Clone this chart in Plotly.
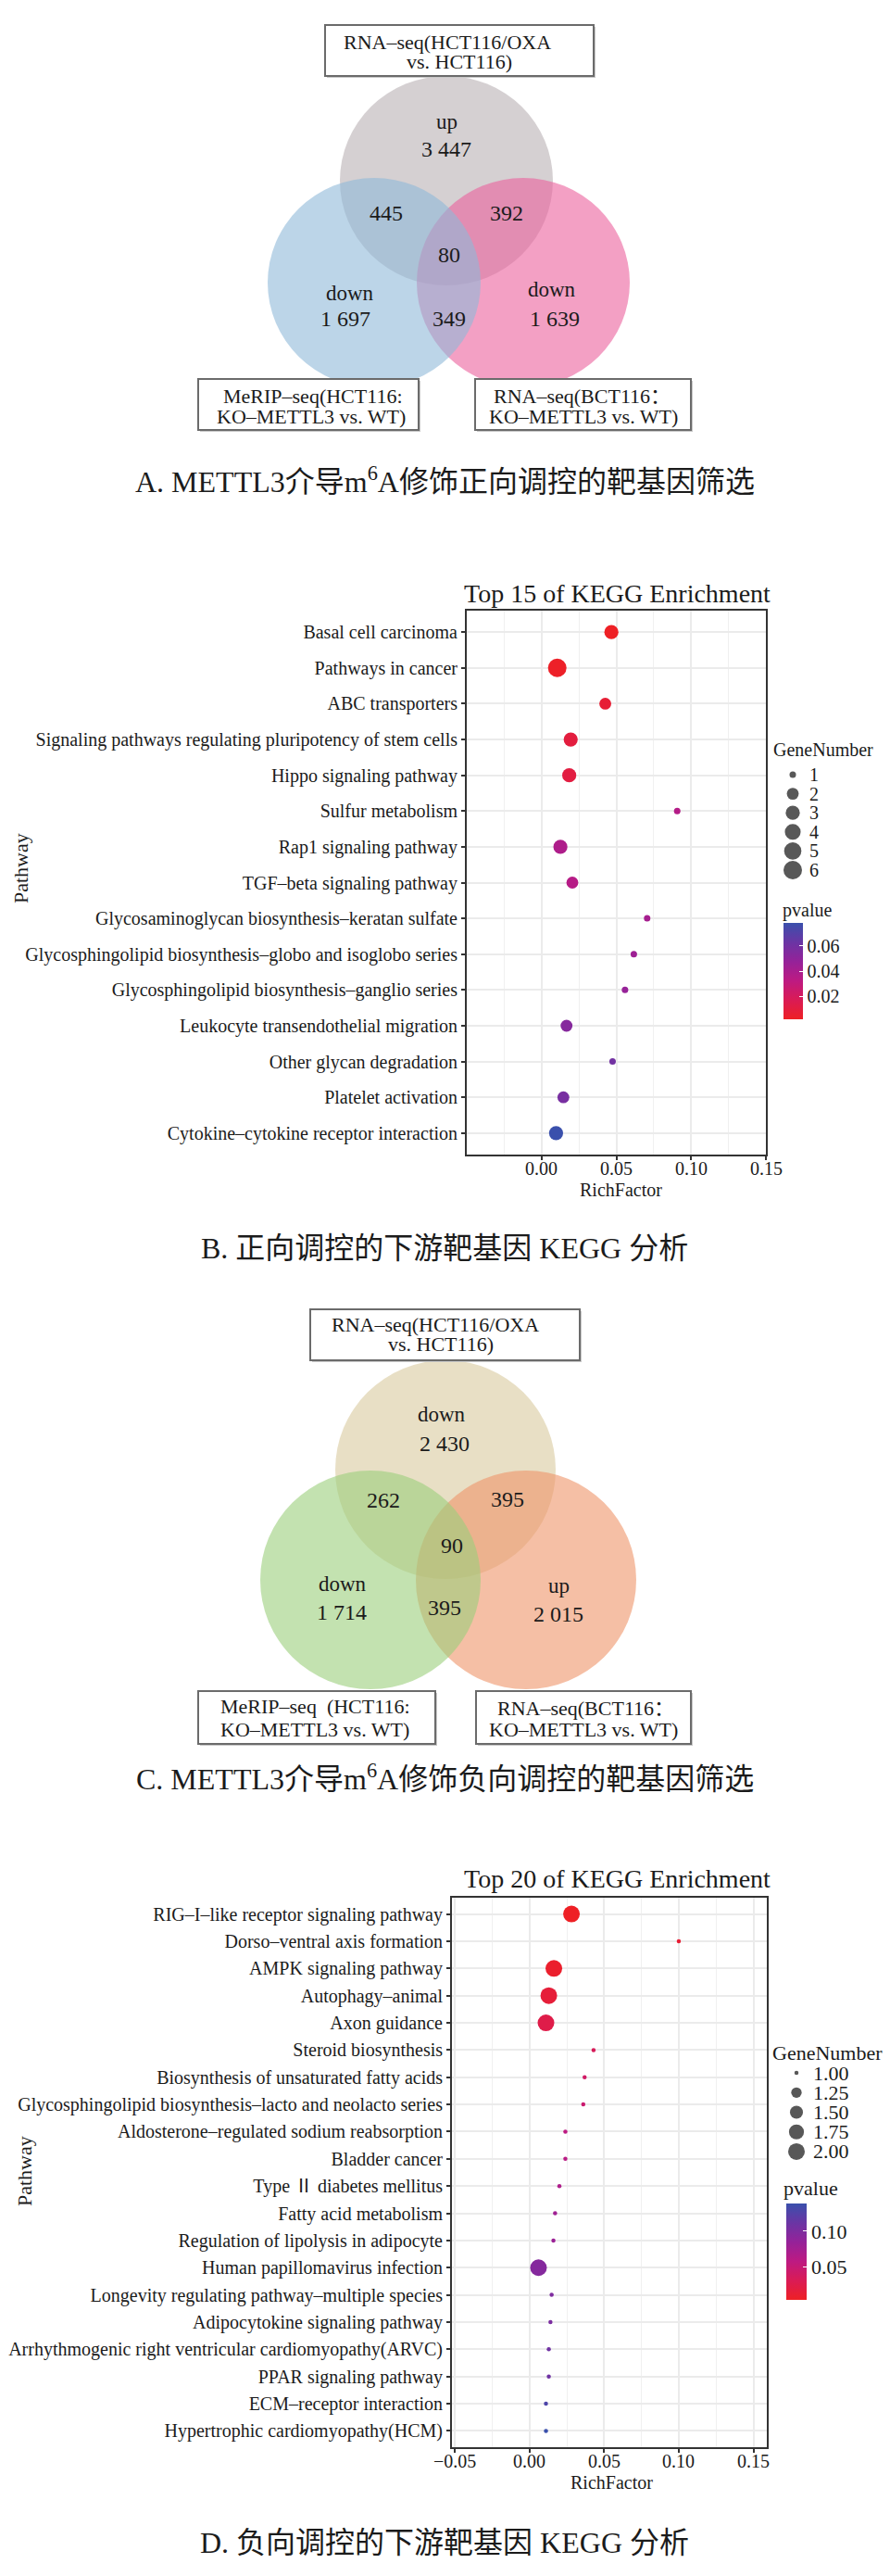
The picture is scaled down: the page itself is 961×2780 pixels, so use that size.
import numpy as np
import plotly.graph_objects as go

W, H = 961, 2780

# ---------------- data ----------------
# Panel A : Venn (top, left, right sets)
venn_a_top_box = ["RNA–seq(HCT116/OXA", "vs. HCT116)"]
venn_a_left_box = ["MeRIP–seq(HCT116:", "KO–METTL3 vs. WT)"]
venn_a_right_box = ["RNA–seq(BCT116：", "KO–METTL3 vs. WT)"]
venn_a_direction = ["up", "down", "down"]      # top, left, right
venn_a_unique = [3447, 1697, 1639]             # top only, left only, right only
venn_a_pairs = [445, 392, 349]                 # top&left, top&right, left&right
venn_a_all = 80

# Panel C : Venn
venn_c_top_box = ["RNA–seq(HCT116/OXA", "vs. HCT116)"]
venn_c_left_box = ["MeRIP–seq  (HCT116:", "KO–METTL3 vs. WT)"]
venn_c_right_box = ["RNA–seq(BCT116：", "KO–METTL3 vs. WT)"]
venn_c_direction = ["down", "down", "up"]
venn_c_unique = [2430, 1714, 2015]
venn_c_pairs = [262, 395, 395]
venn_c_all = 90

# Panel B : KEGG top 15
b_pathways = [
    "Basal cell carcinoma",
    "Pathways in cancer",
    "ABC transporters",
    "Signaling pathways regulating pluripotency of stem cells",
    "Hippo signaling pathway",
    "Sulfur metabolism",
    "Rap1 signaling pathway",
    "TGF–beta signaling pathway",
    "Glycosaminoglycan biosynthesis–keratan sulfate",
    "Glycosphingolipid biosynthesis–globo and isoglobo series",
    "Glycosphingolipid biosynthesis–ganglio series",
    "Leukocyte transendothelial migration",
    "Other glycan degradation",
    "Platelet activation",
    "Cytokine–cytokine receptor interaction",
]
b_richfactor = [0.0467, 0.0105, 0.0426, 0.0195, 0.0185, 0.0907, 0.0126, 0.0206,
                0.0706, 0.0617, 0.0558, 0.0167, 0.0475, 0.0146, 0.0097]
b_genenumber = [3, 6, 2, 3, 3, 1, 3, 2, 1, 1, 1, 2, 1, 2, 3]
b_pvalue = [0.002, 0.003, 0.007, 0.010, 0.011, 0.036, 0.038, 0.035,
            0.041, 0.044, 0.047, 0.053, 0.060, 0.058, 0.078]
b_xticks = [0.00, 0.05, 0.10, 0.15]
b_pvalue_ticks = [0.02, 0.04, 0.06]
b_gene_legend = [1, 2, 3, 4, 5, 6]

# Panel D : KEGG top 20
d_pathways = [
    "RIG–I–like receptor signaling pathway",
    "Dorso–ventral axis formation",
    "AMPK signaling pathway",
    "Autophagy–animal",
    "Axon guidance",
    "Steroid biosynthesis",
    "Biosynthesis of unsaturated fatty acids",
    "Glycosphingolipid biosynthesis–lacto and neolacto series",
    "Aldosterone–regulated sodium reabsorption",
    "Bladder cancer",
    "Type Ⅱ diabetes mellitus",
    "Fatty acid metabolism",
    "Regulation of lipolysis in adipocyte",
    "Human papillomavirus infection",
    "Longevity regulating pathway–multiple species",
    "Adipocytokine signaling pathway",
    "Arrhythmogenic right ventricular cardiomyopathy(ARVC)",
    "PPAR signaling pathway",
    "ECM–receptor interaction",
    "Hypertrophic cardiomyopathy(HCM)",
]
d_richfactor = [0.0281, 0.1000, 0.0163, 0.0129, 0.0110, 0.0429, 0.0369, 0.0360,
                0.0240, 0.0240, 0.0200, 0.0171, 0.0160, 0.0060, 0.0148, 0.0140,
                0.0129, 0.0129, 0.0110, 0.0110]
d_genenumber = [2, 1, 2, 2, 2, 1, 1, 1, 1, 1, 1, 1, 1, 2, 1, 1, 1, 1, 1, 1]
d_pvalue = [0.0035, 0.012, 0.008, 0.015, 0.024, 0.033, 0.040, 0.046,
            0.058, 0.060, 0.068, 0.078, 0.081, 0.095, 0.099, 0.101,
            0.108, 0.109, 0.128, 0.139]
d_xticks = [-0.05, 0.00, 0.05, 0.10, 0.15]
d_pvalue_ticks = [0.05, 0.10]
d_gene_legend = [1.00, 1.25, 1.50, 1.75, 2.00]

captions = [
    "A. METTL3介导m<sup>6</sup>A修饰正向调控的靶基因筛选",
    "B. 正向调控的下游靶基因 KEGG 分析",
    "C. METTL3介导m<sup>6</sup>A修饰负向调控的靶基因筛选",
    "D. 负向调控的下游靶基因 KEGG 分析",
]
kegg_titles = ["Top 15 of KEGG Enrichment", "Top 20 of KEGG Enrichment"]

# ---------------- style helpers ----------------
SERIF = "Liberation Serif, Noto Sans CJK SC, serif"
INK = "#1b1b1b"
CS = [[0.0, "#EE2025"], [0.2, "#DA1B55"], [0.4, "#BD1A82"],
      [0.6, "#952299"], [0.8, "#6A35A4"], [1.0, "#3A50AC"]]


def X(p):
    return p / W


def Y(p):
    return 1 - p / H


def fmt(n):
    return f"{n:,}".replace(",", " ")


def size_px(vals, lo, hi, dmin, dmax):
    v = np.asarray(vals, float)
    return dmin + (dmax - dmin) * np.sqrt((v - lo) / (hi - lo))


fig = go.Figure()


def text(s, x, y, size, xanchor="center", angle=0):
    fig.add_annotation(text=s, x=X(x), y=Y(y), xref="paper", yref="paper",
                       showarrow=False, xanchor=xanchor, yanchor="middle",
                       textangle=angle,
                       font=dict(family=SERIF, size=size, color=INK))


def ellipse(cx, cy, rx, ry, color):
    fig.add_shape(type="circle", xref="paper", yref="paper",
                  x0=X(cx - rx), x1=X(cx + rx), y0=Y(cy + ry), y1=Y(cy - ry),
                  fillcolor=color, line=dict(width=0), layer="above")


def box(x0, y0, x1, y1):
    fig.add_shape(type="rect", xref="paper", yref="paper",
                  x0=X(x0 + 2), x1=X(x1 + 2), y0=Y(y1 + 2), y1=Y(y0 + 2),
                  fillcolor="#c8c8c8", line=dict(width=0), layer="above")
    fig.add_shape(type="rect", xref="paper", yref="paper",
                  x0=X(x0), x1=X(x1), y0=Y(y1), y1=Y(y0),
                  fillcolor="white", line=dict(color="#6b6b6b", width=2),
                  layer="above")


def venn(geo, colors, direction, unique, pairs, allv, boxes):
    rx, ry = geo["r"]
    top, left, right = geo["centers"]
    # draw order: top, right, left
    ellipse(*top, rx, ry, colors[0])
    ellipse(*right, rx, ry, colors[2])
    ellipse(*left, rx, ry, colors[1])
    for (bx0, by0, bx1, by1), lines, pos in boxes:
        box(bx0, by0, bx1, by1)
        for ln, (lx, ly) in zip(lines, pos):
            text(ln, lx, ly, 22)
    for i in range(3):
        (dx, dy), (nx, ny) = geo["uniq_pos"][i]
        text(direction[i], dx, dy, 23)
        text(fmt(unique[i]), nx, ny, 24)
    for v, (x, y) in zip(pairs, geo["pair_pos"]):
        text(fmt(v), x, y, 24)
    text(fmt(allv), *geo["all_pos"], 24)


# ---------------- Panel A ----------------
venn(
    dict(r=(115, 113), centers=[(482, 195), (404, 305), (565, 305)],
         uniq_pos=[((482, 131), (482, 161)), ((378, 316), (373, 344)),
                   ((596, 312), (599, 344))],
         pair_pos=[(417, 230), (547, 230), (485, 344)], all_pos=(485, 275)),
    ["rgba(185,177,180,0.6)", "rgba(143,185,217,0.6)", "rgba(235,97,157,0.6)"],
    venn_a_direction, venn_a_unique, venn_a_pairs, venn_a_all,
    [((351, 27, 641, 82), venn_a_top_box, [(483, 45), (496, 66)]),
     ((214, 409, 452, 464), venn_a_left_box, [(338, 427), (336, 449)]),
     ((513, 409, 746, 464), venn_a_right_box, [(628, 427), (630, 449)])],
)

# ---------------- Panel C ----------------
venn(
    dict(r=(119, 118), centers=[(481, 1586), (400, 1705), (568, 1705)],
         uniq_pos=[((477, 1526), (480, 1558)), ((370, 1709), (369, 1740)),
                   ((603, 1711), (603, 1742))],
         pair_pos=[(414, 1619), (548, 1618), (480, 1735)], all_pos=(488, 1668)),
    ["rgba(217,202,158,0.6)", "rgba(155,207,123,0.6)", "rgba(238,148,105,0.6)"],
    venn_c_direction, venn_c_unique, venn_c_pairs, venn_c_all,
    [((335, 1413, 626, 1468), venn_c_top_box, [(470, 1429), (476, 1451)]),
     ((214, 1825, 470, 1882), venn_c_left_box, [(340, 1841), (340, 1866)]),
     ((514, 1825, 746, 1882), venn_c_right_box, [(632, 1843), (630, 1866)])],
)

# ---------------- KEGG dot plots ----------------
axis_common = dict(showline=True, mirror=True, linecolor="#333333", linewidth=2,
                   ticks="outside", ticklen=4, tickwidth=1.5, tickcolor="#333333",
                   showgrid=True, gridcolor="#EBEBEB", gridwidth=1.5,
                   zeroline=False,
                   tickfont=dict(family=SERIF, size=20, color=INK))


def kegg(n, names, rich, genes, pv, xticks, xrange, plot_box, dsize,
         cbar, pv_ticks, leg_vals, leg_box, leg_fmt, leg_fs, title, title_xy,
         tick_y, rf_xy, pw_xy, gn_xy, pv_xy):
    xa, ya = f"x{2*n-1 if n > 1 else ''}", f"y{2*n-1 if n > 1 else ''}"
    xl, yl = f"x{2*n}", f"y{2*n}"
    x0, y0, x1, y1 = plot_box
    gmin, gmax = min(leg_vals), max(leg_vals)
    fig.add_trace(go.Scatter(
        x=rich, y=names, mode="markers", xaxis=xa, yaxis=ya,
        hoverinfo="skip", showlegend=False,
        marker=dict(size=size_px(genes, gmin, gmax, *dsize), color=pv,
                    colorscale=CS, cmin=min(pv), cmax=max(pv), opacity=1,
                    line=dict(width=0), showscale=True,
                    colorbar=dict(x=X(cbar[0]), xanchor="left", y=Y(cbar[1]),
                                  yanchor="top", len=cbar[3], lenmode="pixels",
                                  thickness=cbar[2], thicknessmode="pixels",
                                  outlinewidth=0, xpad=0, ypad=0,
                                  tickmode="array", tickvals=pv_ticks,
                                  ticktext=[f"{v:.2f}" for v in pv_ticks],
                                  ticks="inside", ticklen=4, tickcolor="white",
                                  tickfont=dict(family=SERIF, size=leg_fs,
                                                color=INK)))))
    step = xticks[1] - xticks[0]
    minor_vals = [t - step / 2 for t in xticks] + [xticks[-1] + step / 2]
    lay = {}
    lay["xaxis" + xa[1:]] = dict(
        domain=[X(x0), X(x1)], range=list(xrange), anchor=ya,
        tickmode="array", tickvals=xticks, showticklabels=False,
        minor=dict(tickmode="array", tickvals=minor_vals, showgrid=True,
                   gridcolor="#F0F0F0", gridwidth=1, ticks=""),
        **axis_common)
    lay["yaxis" + ya[1:]] = dict(
        domain=[Y(y1), Y(y0)], type="category", categoryorder="array",
        categoryarray=names, range=[len(names) - 0.4, -0.6], anchor=xa,
        **axis_common)
    lx0, ly0, lx1, ly1, dot_x = leg_box
    nleg = len(leg_vals)
    half = (leg_vals[1] - leg_vals[0]) / 2
    lay["xaxis" + xl[1:]] = dict(domain=[X(lx0), X(lx1)], range=[lx0, lx1],
                                 visible=False, anchor=yl)
    lay["yaxis" + yl[1:]] = dict(domain=[Y(ly1), Y(ly0)],
                                 range=[leg_vals[-1] + half, leg_vals[0] - half],
                                 visible=False, anchor=xl)
    fig.update_layout(**lay)
    # x tick labels (placed close to the axis as in the reference)
    for v in xticks:
        fig.add_annotation(text=f"{v:.2f}".replace("-", "−"), x=v, y=Y(tick_y),
                           xref=xa, yref="paper", showarrow=False,
                           xanchor="center", yanchor="middle",
                           font=dict(family=SERIF, size=20, color=INK))
    fig.add_trace(go.Scatter(
        x=[dot_x] * nleg, y=leg_vals, mode="markers", xaxis=xl, yaxis=yl,
        hoverinfo="skip", showlegend=False,
        marker=dict(size=size_px(leg_vals, gmin, gmax, *dsize), color="#111111",
                    line=dict(width=0))))
    for v in leg_vals:
        fig.add_annotation(text=leg_fmt(v), x=dot_x + 16, y=v, xref=xl, yref=yl,
                           showarrow=False, xanchor="left", yanchor="middle",
                           font=dict(family=SERIF, size=leg_fs, color=INK))
    text(title, *title_xy, 28)
    text("RichFactor", *rf_xy, 20)
    text("Pathway", *pw_xy, 22, angle=-90)
    text("GeneNumber", *gn_xy, leg_fs, xanchor="left")
    text("pvalue", *pv_xy, leg_fs, xanchor="left")


kegg(1, b_pathways, b_richfactor, b_genenumber, b_pvalue, b_xticks,
     (-0.05, 0.15), (504, 659, 827, 1246), (7, 20),
     (846, 996, 21, 104), b_pvalue_ticks, b_gene_legend,
     (836, 825.7, 900, 949.3, 856), lambda v: f"{v:d}", 20,
     kegg_titles[0], (666, 640), 1261, (670, 1284), (22, 937), (833, 809), (843, 982))

kegg(2, d_pathways, d_richfactor, d_genenumber, d_pvalue, d_xticks,
     (-0.052, 0.159), (488, 2048, 828, 2641), (4.5, 18),
     (849, 2378, 22, 104), d_pvalue_ticks, d_gene_legend,
     (840, 2226.4, 900, 2332.6, 860), lambda v: f"{v:.2f}", 22,
     kegg_titles[1], (666, 2027), 2656, (660, 2679), (26, 2343), (832, 2215), (844, 2361))

# ---------------- captions ----------------
for cap, cy in zip(captions, [518, 1347, 1918, 2744]):
    text(cap, 480, cy, 32)

fig.update_layout(width=W, height=H, margin=dict(l=0, r=0, t=0, b=0),
                  paper_bgcolor="white", plot_bgcolor="white",
                  showlegend=False)

fig.write_html("out.html", config={"displayModeBar": False},
               post_script="document.body.style.margin='0';")
